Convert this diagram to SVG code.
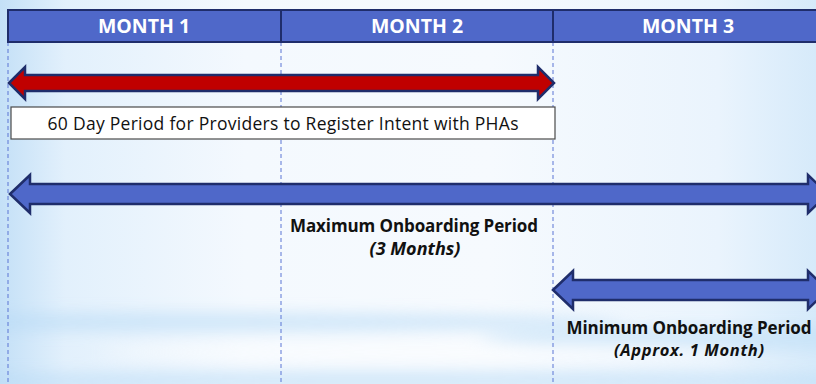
<svg xmlns="http://www.w3.org/2000/svg" width="816" height="384" viewBox="0 0 816 384">
  <defs>
    <linearGradient id="bgH" x1="0" y1="0" x2="1" y2="0">
      <stop offset="0" stop-color="#c4e0f7"/>
      <stop offset="0.08" stop-color="#e2f0fc"/>
      <stop offset="0.3" stop-color="#f4f9fe"/>
      <stop offset="0.6" stop-color="#f6fafe"/>
      <stop offset="0.88" stop-color="#eaf4fd"/>
      <stop offset="1" stop-color="#d6eafa"/>
    </linearGradient>
    <filter id="blur" filterUnits="userSpaceOnUse" x="-300" y="200" width="1400" height="300">
      <feGaussianBlur stdDeviation="10 7"/>
    </filter>
    <style>
      .hdr { fill: #4f68c9; stroke: #1f2d6b; stroke-width: 2; }
      .hdrText { font-family: "Open Sans", "DejaVu Sans", sans-serif; font-weight: bold; font-size: 19.5px; fill: #ffffff; text-anchor: middle; }
      .guide { stroke: #5b74d4; stroke-width: 1; stroke-dasharray: 4 3; fill: none; }
      .arrowBlue { fill: #4f68c9; stroke: #1f2d6b; stroke-width: 2.5; stroke-linejoin: miter; }
      .arrowRed { fill: #c00000; stroke: #1f2d6b; stroke-width: 2.5; stroke-linejoin: miter; }
      .box { fill: #ffffff; stroke: #4a4a4a; stroke-width: 1.2; }
      .boxText { font-family: "Open Sans", "DejaVu Sans", sans-serif; font-size: 17.5px; fill: #111111; text-anchor: middle; }
      .lbl { font-family: "Open Sans", "DejaVu Sans", sans-serif; font-weight: bold; font-size: 17px; fill: #111111; text-anchor: middle; }
      .lblI { font-family: "Open Sans", "DejaVu Sans", sans-serif; font-weight: bold; font-style: italic; font-size: 16.5px; fill: #111111; text-anchor: middle; }
      .lblI2 { font-family: "Open Sans", "DejaVu Sans", sans-serif; font-weight: bold; font-style: italic; font-size: 18px; fill: #111111; text-anchor: middle; }
    </style>
  </defs>

  <!-- background -->
  <rect x="0" y="0" width="816" height="384" fill="url(#bgH)"/>
  <g filter="url(#blur)" opacity="0.55">
    <ellipse cx="200" cy="322" rx="420" ry="10" fill="#b9dbf6"/>
    <ellipse cx="740" cy="338" rx="260" ry="12" fill="#bfdff7"/>
    <ellipse cx="380" cy="381" rx="560" ry="10" fill="#b9dbf6"/>
    <ellipse cx="420" cy="352" rx="320" ry="7" fill="#ffffff"/>
  </g>

  <!-- dashed guide lines -->
  <g id="guides">
    <line class="guide" x1="8" y1="42" x2="8" y2="384"/>
    <line class="guide" x1="281" y1="42" x2="281" y2="384"/>
    <line class="guide" x1="553" y1="42" x2="553" y2="384"/>
  </g>

  <!-- header -->
  <g id="month1">
    <rect class="hdr" x="8" y="10" width="273" height="32"/>
    <text class="hdrText" x="144" y="33">MONTH 1</text>
  </g>
  <g id="month2">
    <rect class="hdr" x="281" y="10" width="272" height="32"/>
    <text class="hdrText" x="417" y="33">MONTH 2</text>
  </g>
  <g id="month3">
    <rect class="hdr" x="553" y="10" width="275" height="32"/>
    <text class="hdrText" x="688" y="33">MONTH 3</text>
  </g>

  <!-- arrows -->
  <g id="connectors">
    <polygon id="arrow60" class="arrowRed" points="9,83 25,67 25,75 538,75 538,67 554,83 538,99 538,91 25,91 25,99"/>
    <polygon id="arrowMax" class="arrowBlue" points="10,194 30,175 30,184 808,184 808,175 828,194 808,213 808,204 30,204 30,213"/>
    <polygon id="arrowMin" class="arrowBlue" points="553,290 573,271 573,280 808,280 808,271 828,290 808,309 808,300 573,300 573,309"/>
  </g>

  <!-- 60 day box -->
  <g id="period60">
    <rect class="box" x="11" y="107" width="544" height="32"/>
    <text class="boxText" x="283" y="129.5" textLength="471">60 Day Period for Providers to Register Intent with PHAs</text>
  </g>

  <!-- labels -->
  <g id="maxLabel">
    <text class="lbl" x="414" y="232" textLength="248">Maximum Onboarding Period</text>
    <text class="lblI2" x="415" y="254.5">(3 Months)</text>
  </g>
  <g id="minLabel">
    <text class="lbl" x="689" y="333.5" textLength="245">Minimum Onboarding Period</text>
    <text class="lblI" x="689" y="356" textLength="150">(Approx. 1 Month)</text>
  </g>
</svg>
